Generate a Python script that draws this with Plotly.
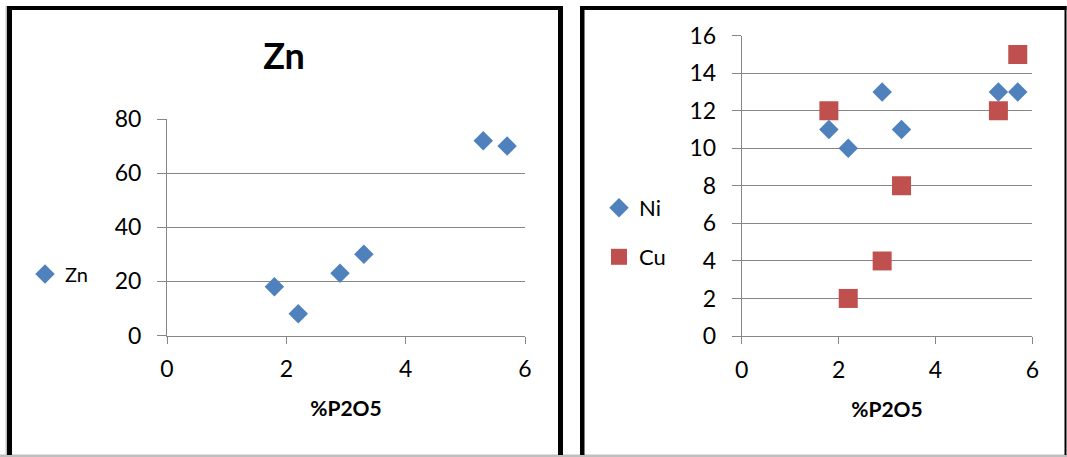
import plotly.graph_objects as go

# ---- data ----
p2o5 = [1.8, 2.2, 2.9, 3.3, 5.3, 5.7]
zn = [18, 8, 23, 30, 72, 70]
ni = [11, 10, 13, 11, 13, 13]
cu = [12, 2, 4, 8, 12, 15]
x_ticks = [0, 2, 4, 6]
zn_ticks = [0, 20, 40, 60, 80]
nicu_ticks = [0, 2, 4, 6, 8, 10, 12, 14, 16]

W, H = 1067, 457
def px(x):
    return x / W
def py(y):
    return 1 - y / H

BLUE = "#4F81BD"
RED = "#C0504D"
GRID = "#868686"
FONT = "Lato"

fig = go.Figure()
fig.add_trace(go.Scatter(x=p2o5, y=zn, mode="markers", name="Zn", showlegend=True,
                         marker=dict(symbol="diamond", size=15, color=BLUE),
                         xaxis="x", yaxis="y", legend="legend"))
fig.add_trace(go.Scatter(x=p2o5, y=ni, mode="markers", name="Ni", showlegend=True,
                         marker=dict(symbol="diamond", size=15, color=BLUE),
                         xaxis="x2", yaxis="y2", legend="legend2"))
fig.add_trace(go.Scatter(x=p2o5, y=cu, mode="markers", name="Cu", showlegend=True,
                         marker=dict(symbol="square", size=19, color=RED),
                         xaxis="x2", yaxis="y2", legend="legend3"))

def xax(domain, anchor):
    return dict(domain=domain, anchor=anchor, range=[0, 6], tickvals=x_ticks,
                showgrid=False, zeroline=False, showline=True, linecolor=GRID,
                linewidth=1, ticks="outside", ticklen=7, tickcolor=GRID,
                tickwidth=1, ticklabelstandoff=6,
                tickfont=dict(family=FONT, size=23, color="#000000"),
                title=dict(text="<b>%P2O5</b>", standoff=20,
                           font=dict(family=FONT, size=21, color="#000000")),
                automargin=False, fixedrange=True)

def yax(domain, anchor, rng, vals):
    return dict(domain=domain, anchor=anchor, range=rng, tickvals=vals,
                showgrid=True, gridcolor=GRID, gridwidth=1, zeroline=False,
                showline=True, linecolor=GRID, linewidth=1, ticks="outside",
                ticklen=9, tickcolor=GRID, tickwidth=1, ticklabelstandoff=11,
                tickfont=dict(family=FONT, size=23, color="#000000"),
                automargin=False, fixedrange=True)

fig.update_layout(
    template="none",
    showlegend=True,
    width=W, height=H, autosize=False,
    margin=dict(l=0, r=0, t=0, b=0, pad=0),
    paper_bgcolor="white", plot_bgcolor="white",
    xaxis=xax([px(167), px(525)], "y"),
    yaxis=yax([py(335.5), py(119)], "x", [0, 80], zn_ticks),
    xaxis2=xax([px(741.7), px(1032.3)], "y2"),
    yaxis2=yax([py(336), py(35.7)], "x2", [0, 16], nicu_ticks),
    title=dict(text="<b>Zn</b>", x=px(284), y=py(56), xanchor="center",
               yanchor="middle", font=dict(family=FONT, size=36, color="#000000")),
    legend=dict(visible=True, x=px(25), y=py(274), xanchor="left", yanchor="middle",
                font=dict(family=FONT, size=20, color="#000000"), bgcolor="rgba(0,0,0,0)"),
    legend2=dict(visible=True, x=px(599), y=py(208), xanchor="left", yanchor="middle",
                 font=dict(family=FONT, size=22, color="#000000"), bgcolor="rgba(0,0,0,0)"),
    legend3=dict(visible=True, x=px(599), y=py(257), xanchor="left", yanchor="middle",
                 font=dict(family=FONT, size=22, color="#000000"), bgcolor="rgba(0,0,0,0)"),
)

# panel borders (chart frames)
def rect(x0, y0, x1, y1, color):
    fig.add_shape(type="rect", xref="paper", yref="paper",
                  x0=px(x0), x1=px(x1), y0=py(y1), y1=py(y0),
                  fillcolor=color, line=dict(width=0), layer="above")

BLACK = "#000000"
LIGHT = "#BFBFBF"
rect(5.5, 6, 7, 457, LIGHT)
rect(0, 454.5, 1067, 457, LIGHT)
# left frame
rect(7, 6, 563, 10, BLACK)
rect(7, 6, 12, 455, BLACK)
rect(558, 6, 563, 455, BLACK)
# right frame
rect(580, 6, 1066.5, 10, BLACK)
rect(580, 6, 584.5, 455, BLACK)
rect(1064.5, 6, 1066.5, 455, BLACK)

fig.write_html("out.html", config={"displayModeBar": False},
               post_script="document.body.style.margin='0';document.body.style.overflow='hidden';")
